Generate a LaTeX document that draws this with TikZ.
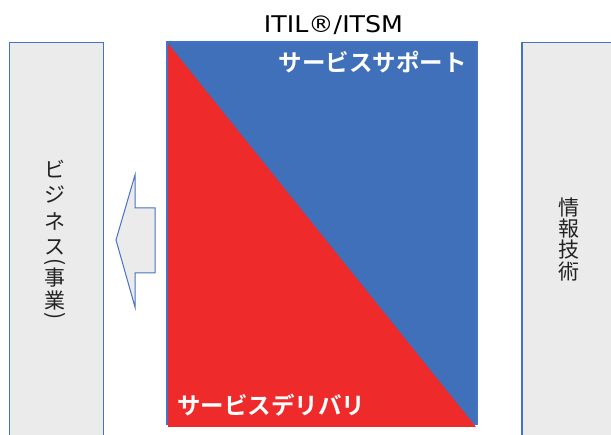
\documentclass[tikz,border=0pt]{standalone}
\usepackage{fontspec}
\setmainfont{DejaVu Sans}
\newfontfamily\jp{Noto Sans CJK JP}
\newfontfamily\jpb{Noto Sans CJK JP Bold}
\definecolor{obl}{HTML}{4472C4}
\definecolor{sq}{HTML}{3F70B9}
\definecolor{rd}{HTML}{EE2A2A}
\definecolor{gr}{HTML}{EBEBEB}
\definecolor{tx}{HTML}{222222}
\begin{document}
\begin{tikzpicture}[x=1pt,y=-1pt,
  sidebox/.style={fill=gr,draw=obl,line width=1.2pt},
  vglyph/.style={font=\jp\fontsize{21}{21}\selectfont,text=tx,inner sep=0pt},
  wtitle/.style={font=\jpb\fontsize{23.5}{24}\selectfont,text=white,inner sep=0pt}]
\useasboundingbox (0,0) rectangle (611,435);
% side boxes
\path[sidebox] (9.5,42.5) rectangle (103.5,445);
\path[sidebox] (522,42.5) rectangle (620,445);
% main square
\path[fill=sq,draw=obl,line width=1.2pt] (167,42) rectangle (477,424);
\path[fill=rd] (168,43.5) -- (168,427) -- (476,427) -- cycle;
% block arrow
\path[fill=gr,draw=obl,line width=1pt]
  (116,240) -- (135,175) -- (135,208) -- (155,208) -- (155,273) -- (135,273) -- (135,307) -- cycle;
% texts
\node[font=\fontsize{23}{25}\selectfont,text=black,xscale=1.1,inner sep=0pt] (title) at (333.5,25) {ITIL®/ITSM};
\node[wtitle,anchor=east] (support) at (467,62) {サービスサポート};
\node[wtitle,anchor=west] (delivery) at (177,405) {サービスデリバリ};
% vertical text, left
\node[vglyph] (b1) at (55,169) {ビ};
\node[vglyph] (b2) at (55,195) {ジ};
\node[vglyph] (b3) at (55,222) {ネ};
\node[vglyph] (b4) at (55,247) {ス};
\node[vglyph,rotate=-90] (b5) at (55,262.5) {(};
\node[vglyph] (b6) at (55,278) {事};
\node[vglyph] (b7) at (55,301) {業};
\node[vglyph,rotate=-90] (b8) at (55,316.5) {)};
% vertical text, right
\node[vglyph] (i1) at (569,208) {情};
\node[vglyph] (i2) at (569,229) {報};
\node[vglyph] (i3) at (569,250) {技};
\node[vglyph] (i4) at (569,272) {術};
\end{tikzpicture}
\end{document}
